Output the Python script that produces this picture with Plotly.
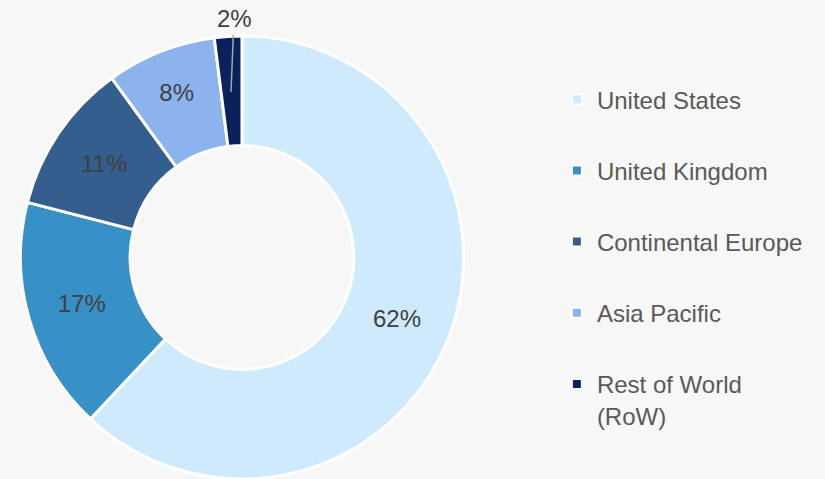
import plotly.graph_objects as go

regions = ["United States", "United Kingdom", "Continental Europe", "Asia Pacific", "Rest of World (RoW)"]
legend_labels = ["United States", "United Kingdom", "Continental Europe", "Asia Pacific", "Rest of World<br>(RoW)"]
shares = [62, 17, 11, 8, 2]
colors = ["#cfeafc", "#3891c6", "#335e8e", "#8cb3ee", "#0a215c"]

FONT = "Liberation Sans, Arial, sans-serif"
TXT = "#404040"

total = sum(shares)
texts = [f"{v/total*100:.0f}%" for v in shares]
inside_texts = texts[:-1] + [""]

fig = go.Figure()
fig.add_trace(go.Pie(
    labels=regions, values=shares, sort=False, direction="clockwise", rotation=0,
    hole=0.505, marker=dict(colors=colors, line=dict(color="white", width=3)),
    text=inside_texts, textinfo="text", textposition="inside",
    insidetextorientation="horizontal",
    insidetextfont=dict(family=FONT, size=24, color=TXT),
    showlegend=False, hoverinfo="label+percent",
    domain=dict(x=[0.0242, 0.5624], y=[0.0, 0.925]),
))

for i, (lab, col) in enumerate(zip(legend_labels, colors)):
    fig.add_trace(go.Scatter(
        x=[None], y=[None], mode="markers", name=lab, legendgroup=f"g{i}",
        marker=dict(symbol="square", size=10, color=col, line=dict(color="white", width=2)),
    ))

# outside label for the small slice with a leader line
fig.add_annotation(
    x=231 / 825, y=(479 - 92) / 479, xref="paper", yref="paper",
    text=texts[-1], showarrow=True, arrowhead=0, arrowwidth=1.5, arrowcolor="#a6a6a6",
    ax=3, ay=-74, startstandoff=2,
    font=dict(family=FONT, size=24, color=TXT),
)

fig.update_layout(
    width=825, height=479,
    margin=dict(l=0, r=0, t=0, b=0),
    paper_bgcolor="#f7f7f7", plot_bgcolor="#f7f7f7",
    xaxis=dict(visible=False), yaxis=dict(visible=False),
    legend=dict(x=0.675, y=0.839, xanchor="left", yanchor="top",
                font=dict(family=FONT, size=24, color="#595959"),
                tracegroupgap=37, itemwidth=30, valign="top",
                bgcolor="rgba(0,0,0,0)"),
    showlegend=True,
)

fig.write_html("out.html", config={"displayModeBar": False},
               post_script="document.body.style.margin='0';")
